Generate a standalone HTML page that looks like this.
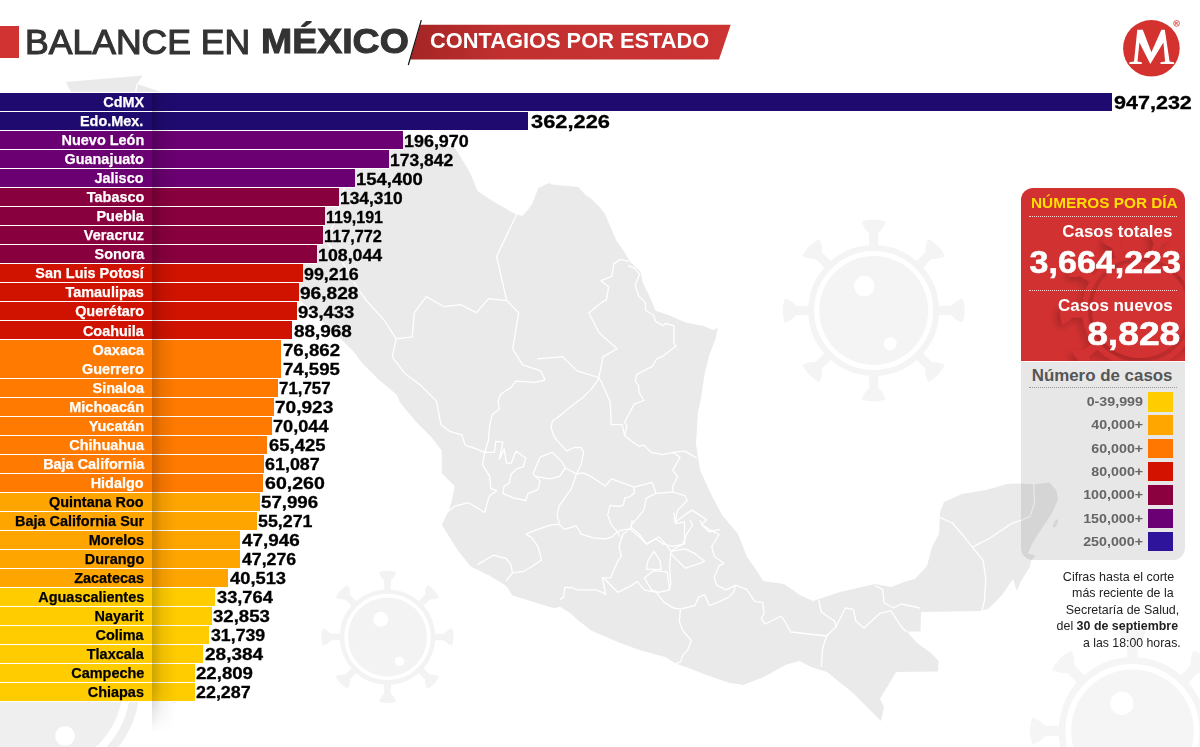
<!DOCTYPE html>
<html><head><meta charset="utf-8">
<style>
html,body{margin:0;padding:0;}
body{width:1200px;height:747px;overflow:hidden;background:#fff;position:relative;font-family:"Liberation Sans",sans-serif;}
.abs{position:absolute;}
.t{position:absolute;line-height:1;white-space:nowrap;}
.bar{position:absolute;left:0;height:18px;}
.num{font-weight:bold;color:#000;transform-origin:0 0;-webkit-text-stroke:0.3px #000;}
</style></head><body>

<svg class="abs" style="left:0;top:0" width="1200" height="747" viewBox="0 0 1200 747">
<circle cx="873.7" cy="310.5" r="62.50" fill="none" stroke="#f4f4f4" stroke-width="6.00"/>
<circle cx="873.7" cy="310.5" r="54.50" fill="#f4f4f4"/>
<g transform="translate(873.7,310.5) rotate(0) scale(1.0000)"><rect x="-4.6" y="-80" width="9.2" height="16" fill="#f4f4f4"/><path d="M-12,-89 Q0,-93 12,-89 Q10,-82 4,-77 L-4,-77 Q-10,-82 -12,-89 Z" fill="#f4f4f4"/></g>
<g transform="translate(873.7,310.5) rotate(45) scale(1.0000)"><rect x="-4.6" y="-80" width="9.2" height="16" fill="#f4f4f4"/><path d="M-12,-89 Q0,-93 12,-89 Q10,-82 4,-77 L-4,-77 Q-10,-82 -12,-89 Z" fill="#f4f4f4"/></g>
<g transform="translate(873.7,310.5) rotate(90) scale(1.0000)"><rect x="-4.6" y="-80" width="9.2" height="16" fill="#f4f4f4"/><path d="M-12,-89 Q0,-93 12,-89 Q10,-82 4,-77 L-4,-77 Q-10,-82 -12,-89 Z" fill="#f4f4f4"/></g>
<g transform="translate(873.7,310.5) rotate(135) scale(1.0000)"><rect x="-4.6" y="-80" width="9.2" height="16" fill="#f4f4f4"/><path d="M-12,-89 Q0,-93 12,-89 Q10,-82 4,-77 L-4,-77 Q-10,-82 -12,-89 Z" fill="#f4f4f4"/></g>
<g transform="translate(873.7,310.5) rotate(180) scale(1.0000)"><rect x="-4.6" y="-80" width="9.2" height="16" fill="#f4f4f4"/><path d="M-12,-89 Q0,-93 12,-89 Q10,-82 4,-77 L-4,-77 Q-10,-82 -12,-89 Z" fill="#f4f4f4"/></g>
<g transform="translate(873.7,310.5) rotate(225) scale(1.0000)"><rect x="-4.6" y="-80" width="9.2" height="16" fill="#f4f4f4"/><path d="M-12,-89 Q0,-93 12,-89 Q10,-82 4,-77 L-4,-77 Q-10,-82 -12,-89 Z" fill="#f4f4f4"/></g>
<g transform="translate(873.7,310.5) rotate(270) scale(1.0000)"><rect x="-4.6" y="-80" width="9.2" height="16" fill="#f4f4f4"/><path d="M-12,-89 Q0,-93 12,-89 Q10,-82 4,-77 L-4,-77 Q-10,-82 -12,-89 Z" fill="#f4f4f4"/></g>
<g transform="translate(873.7,310.5) rotate(315) scale(1.0000)"><rect x="-4.6" y="-80" width="9.2" height="16" fill="#f4f4f4"/><path d="M-12,-89 Q0,-93 12,-89 Q10,-82 4,-77 L-4,-77 Q-10,-82 -12,-89 Z" fill="#f4f4f4"/></g>
<circle cx="864.30" cy="286.00" r="10.30" fill="#fff"/>
<circle cx="890.20" cy="343.70" r="6.50" fill="#fff"/>
<circle cx="387.5" cy="637" r="45.42" fill="none" stroke="#f3f3f3" stroke-width="4.36"/>
<circle cx="387.5" cy="637" r="39.61" fill="#f3f3f3"/>
<g transform="translate(387.5,637) rotate(0) scale(0.7267)"><rect x="-4.6" y="-80" width="9.2" height="16" fill="#f3f3f3"/><path d="M-12,-89 Q0,-93 12,-89 Q10,-82 4,-77 L-4,-77 Q-10,-82 -12,-89 Z" fill="#f3f3f3"/></g>
<g transform="translate(387.5,637) rotate(45) scale(0.7267)"><rect x="-4.6" y="-80" width="9.2" height="16" fill="#f3f3f3"/><path d="M-12,-89 Q0,-93 12,-89 Q10,-82 4,-77 L-4,-77 Q-10,-82 -12,-89 Z" fill="#f3f3f3"/></g>
<g transform="translate(387.5,637) rotate(90) scale(0.7267)"><rect x="-4.6" y="-80" width="9.2" height="16" fill="#f3f3f3"/><path d="M-12,-89 Q0,-93 12,-89 Q10,-82 4,-77 L-4,-77 Q-10,-82 -12,-89 Z" fill="#f3f3f3"/></g>
<g transform="translate(387.5,637) rotate(135) scale(0.7267)"><rect x="-4.6" y="-80" width="9.2" height="16" fill="#f3f3f3"/><path d="M-12,-89 Q0,-93 12,-89 Q10,-82 4,-77 L-4,-77 Q-10,-82 -12,-89 Z" fill="#f3f3f3"/></g>
<g transform="translate(387.5,637) rotate(180) scale(0.7267)"><rect x="-4.6" y="-80" width="9.2" height="16" fill="#f3f3f3"/><path d="M-12,-89 Q0,-93 12,-89 Q10,-82 4,-77 L-4,-77 Q-10,-82 -12,-89 Z" fill="#f3f3f3"/></g>
<g transform="translate(387.5,637) rotate(225) scale(0.7267)"><rect x="-4.6" y="-80" width="9.2" height="16" fill="#f3f3f3"/><path d="M-12,-89 Q0,-93 12,-89 Q10,-82 4,-77 L-4,-77 Q-10,-82 -12,-89 Z" fill="#f3f3f3"/></g>
<g transform="translate(387.5,637) rotate(270) scale(0.7267)"><rect x="-4.6" y="-80" width="9.2" height="16" fill="#f3f3f3"/><path d="M-12,-89 Q0,-93 12,-89 Q10,-82 4,-77 L-4,-77 Q-10,-82 -12,-89 Z" fill="#f3f3f3"/></g>
<g transform="translate(387.5,637) rotate(315) scale(0.7267)"><rect x="-4.6" y="-80" width="9.2" height="16" fill="#f3f3f3"/><path d="M-12,-89 Q0,-93 12,-89 Q10,-82 4,-77 L-4,-77 Q-10,-82 -12,-89 Z" fill="#f3f3f3"/></g>
<circle cx="380.67" cy="619.20" r="7.49" fill="#fff"/>
<circle cx="399.49" cy="661.13" r="4.72" fill="#fff"/>
<circle cx="1132.5" cy="731" r="70.42" fill="none" stroke="#f5f5f5" stroke-width="6.76"/>
<circle cx="1132.5" cy="731" r="61.41" fill="#f5f5f5"/>
<g transform="translate(1132.5,731) rotate(0) scale(1.1267)"><rect x="-4.6" y="-80" width="9.2" height="16" fill="#f5f5f5"/><path d="M-12,-89 Q0,-93 12,-89 Q10,-82 4,-77 L-4,-77 Q-10,-82 -12,-89 Z" fill="#f5f5f5"/></g>
<g transform="translate(1132.5,731) rotate(45) scale(1.1267)"><rect x="-4.6" y="-80" width="9.2" height="16" fill="#f5f5f5"/><path d="M-12,-89 Q0,-93 12,-89 Q10,-82 4,-77 L-4,-77 Q-10,-82 -12,-89 Z" fill="#f5f5f5"/></g>
<g transform="translate(1132.5,731) rotate(90) scale(1.1267)"><rect x="-4.6" y="-80" width="9.2" height="16" fill="#f5f5f5"/><path d="M-12,-89 Q0,-93 12,-89 Q10,-82 4,-77 L-4,-77 Q-10,-82 -12,-89 Z" fill="#f5f5f5"/></g>
<g transform="translate(1132.5,731) rotate(135) scale(1.1267)"><rect x="-4.6" y="-80" width="9.2" height="16" fill="#f5f5f5"/><path d="M-12,-89 Q0,-93 12,-89 Q10,-82 4,-77 L-4,-77 Q-10,-82 -12,-89 Z" fill="#f5f5f5"/></g>
<g transform="translate(1132.5,731) rotate(180) scale(1.1267)"><rect x="-4.6" y="-80" width="9.2" height="16" fill="#f5f5f5"/><path d="M-12,-89 Q0,-93 12,-89 Q10,-82 4,-77 L-4,-77 Q-10,-82 -12,-89 Z" fill="#f5f5f5"/></g>
<g transform="translate(1132.5,731) rotate(225) scale(1.1267)"><rect x="-4.6" y="-80" width="9.2" height="16" fill="#f5f5f5"/><path d="M-12,-89 Q0,-93 12,-89 Q10,-82 4,-77 L-4,-77 Q-10,-82 -12,-89 Z" fill="#f5f5f5"/></g>
<g transform="translate(1132.5,731) rotate(270) scale(1.1267)"><rect x="-4.6" y="-80" width="9.2" height="16" fill="#f5f5f5"/><path d="M-12,-89 Q0,-93 12,-89 Q10,-82 4,-77 L-4,-77 Q-10,-82 -12,-89 Z" fill="#f5f5f5"/></g>
<g transform="translate(1132.5,731) rotate(315) scale(1.1267)"><rect x="-4.6" y="-80" width="9.2" height="16" fill="#f5f5f5"/><path d="M-12,-89 Q0,-93 12,-89 Q10,-82 4,-77 L-4,-77 Q-10,-82 -12,-89 Z" fill="#f5f5f5"/></g>
<circle cx="1121.91" cy="703.40" r="11.61" fill="#fff"/>
<circle cx="1151.09" cy="768.41" r="7.32" fill="#fff"/>
<circle cx="39.8" cy="685.3" r="95.42" fill="none" stroke="#efefef" stroke-width="9.16"/>
<circle cx="39.8" cy="685.3" r="83.21" fill="#efefef"/>
<g transform="translate(39.8,685.3) rotate(0) scale(1.5267)"><rect x="-4.6" y="-80" width="9.2" height="16" fill="#efefef"/><path d="M-12,-89 Q0,-93 12,-89 Q10,-82 4,-77 L-4,-77 Q-10,-82 -12,-89 Z" fill="#efefef"/></g>
<g transform="translate(39.8,685.3) rotate(45) scale(1.5267)"><rect x="-4.6" y="-80" width="9.2" height="16" fill="#efefef"/><path d="M-12,-89 Q0,-93 12,-89 Q10,-82 4,-77 L-4,-77 Q-10,-82 -12,-89 Z" fill="#efefef"/></g>
<g transform="translate(39.8,685.3) rotate(90) scale(1.5267)"><rect x="-4.6" y="-80" width="9.2" height="16" fill="#efefef"/><path d="M-12,-89 Q0,-93 12,-89 Q10,-82 4,-77 L-4,-77 Q-10,-82 -12,-89 Z" fill="#efefef"/></g>
<g transform="translate(39.8,685.3) rotate(135) scale(1.5267)"><rect x="-4.6" y="-80" width="9.2" height="16" fill="#efefef"/><path d="M-12,-89 Q0,-93 12,-89 Q10,-82 4,-77 L-4,-77 Q-10,-82 -12,-89 Z" fill="#efefef"/></g>
<g transform="translate(39.8,685.3) rotate(180) scale(1.5267)"><rect x="-4.6" y="-80" width="9.2" height="16" fill="#efefef"/><path d="M-12,-89 Q0,-93 12,-89 Q10,-82 4,-77 L-4,-77 Q-10,-82 -12,-89 Z" fill="#efefef"/></g>
<g transform="translate(39.8,685.3) rotate(225) scale(1.5267)"><rect x="-4.6" y="-80" width="9.2" height="16" fill="#efefef"/><path d="M-12,-89 Q0,-93 12,-89 Q10,-82 4,-77 L-4,-77 Q-10,-82 -12,-89 Z" fill="#efefef"/></g>
<g transform="translate(39.8,685.3) rotate(270) scale(1.5267)"><rect x="-4.6" y="-80" width="9.2" height="16" fill="#efefef"/><path d="M-12,-89 Q0,-93 12,-89 Q10,-82 4,-77 L-4,-77 Q-10,-82 -12,-89 Z" fill="#efefef"/></g>
<g transform="translate(39.8,685.3) rotate(315) scale(1.5267)"><rect x="-4.6" y="-80" width="9.2" height="16" fill="#efefef"/><path d="M-12,-89 Q0,-93 12,-89 Q10,-82 4,-77 L-4,-77 Q-10,-82 -12,-89 Z" fill="#efefef"/></g>
<circle cx="25.45" cy="647.90" r="15.73" fill="#fff"/>
<circle cx="64.99" cy="735.99" r="9.92" fill="#fff"/>
<path d="M65.75,82 142.5,75.5 137,84 163,92.5 300,115 455,148 470,172.5 477.5,191 492.5,201 515,214 522.5,216 528.3,209.2 532.5,203.3 538.3,187.9 549.2,182.9 551.7,184.6 565,185.8 578.3,187.1 585,194.2 591.7,199.2 600,207.5 605,214 616.1,240 623.6,250.7 630,261.4 640.7,272.1 642.8,282.8 649.3,295.7 655.7,310.7 668.5,315 685.7,322.4 702.8,325.7 713.5,329.9 717.8,327.8 715.6,338.5 709.2,355.6 704.9,372.8 700.6,400 698,412 696,444 700,470 712,496 722,515 738,534 747,557 757,571 763,581 784,584 800,595 813,601 840,592 875,584 891,587 907,581 915,579 927,566 932,547 939,534 940,512 944,502 962,494 986,490 1007,484 1018.7,483.4 1033.7,484.3 1049.6,482.5 1056.2,490 1058,499.3 1052.4,512.4 1044.9,523.7 1037.5,534.9 1031.8,544.3 1028.1,553.6 1035.6,555.5 1030.9,561.1 1030,566.7 1026.2,572.4 1020.6,581.7 1016.9,591.1 1013,579 1002,595 988,609 980,611 921,612 920.5,631.5 907,631.5 917,643 931,653 938.7,661 938,671.5 896,672 880,699 884,707 881,721 864,704 853,693 827,672 811,667 799.8,661 786.5,664.6 764.8,676.6 743.1,685.1 728.7,682.7 704.6,674.2 692.5,669.4 675.7,663.4 666,657.3 639.5,650.1 620.2,642.9 591.3,630.8 579.3,621.2 569.6,612.8 560,606.7 554.3,608.3 512.5,595.4 506.1,585.8 490,576.1 470.7,566.5 457.9,550.4 441.8,524.7 448.2,511.8 451.4,502.2 454.7,486.1 441.8,473.2 441.8,450.7 432.2,437.9 416,421.8 400,402.5 397,395 378,379 362,363 354,352 338,336 300,300 250,230 200,160 170,120 150,110 140,140 170,230 230,330 260,420 250,470 200,380 120,260 80,170 72,94 65.75,82 Z" fill="#eaeaea"/>
<ellipse cx="1055.5" cy="523.5" rx="1.6" ry="4.5" transform="rotate(25 1055.5 523.5)" fill="#eaeaea"/>
<polyline points="516.7,214.3 496.6,256.5 506.7,300.6" fill="none" stroke="#fff" stroke-width="1.3" stroke-linejoin="round"/>
<polyline points="506.7,300.6 488.6,298.6 476.5,312.7 460.5,304.7 444.4,306.7 426.3,296.6 414.3,312.7 412.3,336.8 396.2,338.8" fill="none" stroke="#fff" stroke-width="1.3" stroke-linejoin="round"/>
<polyline points="344.7,186.8 335.6,218.7 326.4,241.5 342.4,262 358.3,289.3 366,300 384,320 396.2,338.8" fill="none" stroke="#fff" stroke-width="1.3" stroke-linejoin="round"/>
<polyline points="396.2,338.8 392.2,356.9 404.3,372.9 420.3,385 436.4,401 440.9,424.4 449.6,431.3 461.8,434.8 465.2,445.2 475.7,448.7 484.8,452.3" fill="none" stroke="#fff" stroke-width="1.3" stroke-linejoin="round"/>
<polyline points="506.7,300.6 518.7,312.7 512.7,348.8 522.7,364.9 540.8,370.9 545.1,380" fill="none" stroke="#fff" stroke-width="1.3" stroke-linejoin="round"/>
<polyline points="536.8,358.8 562.9,356.9 577,370.9 597,377 600.5,380" fill="none" stroke="#fff" stroke-width="1.3" stroke-linejoin="round"/>
<polyline points="545.1,380 535.4,382.4 516.1,381.2 511.3,387.2 500.5,394.5 498.1,401.7 499.3,408.9 492,414.9 489.6,425.8 488.4,440.2 484.8,452.3 482.4,464.3 489.6,476.4 490.8,488.4 496.9,490.8 489.6,495.7 487.2,502.9 484.8,512.5 468.7,502.7 454.8,506.2 447.8,511.4" fill="none" stroke="#fff" stroke-width="1.3" stroke-linejoin="round"/>
<polyline points="628.9,261.4 620.3,259.3 613.9,263.6 611.8,276.4 601,280.7 608.6,287.1 606.4,300 602.1,302.1 589,312.7 599,332.8 617.1,348.8 603,356.9 599,377 598.1,380" fill="none" stroke="#fff" stroke-width="1.3" stroke-linejoin="round"/>
<polyline points="627.8,265.7 634.3,267.8 639.6,274.3 635.3,285 638.5,295.7 645,302.1 646,310.7 653.5,315 655.7,321.4 663.2,325.7 665.3,323.5 673.9,325.7 673.9,342.8 676,346 662.1,356.7 656.7,358.8 652.5,366.3 643.9,370.6 636.4,374.9 635.3,381.3 638.5,385.6 639,392 643.9,400.5 634.2,404.1 624.6,422.2 627,425.8 624.6,435.4 631.8,441.4 639,446.3 643.9,445.1 651.1,452.3 663.1,454.7 672.8,452.3 684.8,451.1 696.9,458.3" fill="none" stroke="#fff" stroke-width="1.3" stroke-linejoin="round"/>
<polyline points="600.5,380 610.1,401.7 611.3,424.6 622.2,424.6 624.6,435.4" fill="none" stroke="#fff" stroke-width="1.3" stroke-linejoin="round"/>
<polyline points="484.8,452.3 494.5,452.3 495.7,441.4 502.9,442.2 499.3,459.5 504.1,448.7 506.5,463.1 511.3,463.1 516.1,451.1 525.8,458.3 523.4,466.7 516.1,469.2 511.3,474 508.9,483.6 504.1,486 502.9,493.3 513.7,498.1 525.8,500.5 528.2,493.3 537.8,489.6 540.2,481.2 535.4,476.4" fill="none" stroke="#fff" stroke-width="1.3" stroke-linejoin="round"/>
<polyline points="533,474 540.2,457.1 552.3,452.3 561.9,461.9 565.5,468 559.5,476.4 549.9,478.8 535.4,476.4 533,474" fill="none" stroke="#fff" stroke-width="1.3" stroke-linejoin="round"/>
<polyline points="598.1,380 590.8,389.6 583.6,396.9 574,404.1 559.5,416.1 552.3,421 551.1,428.2 554.7,437.8 566.7,451.1 574,447.5 581.2,447.5 583.6,452.3 581.2,464.3 576.4,474 565.5,468" fill="none" stroke="#fff" stroke-width="1.3" stroke-linejoin="round"/>
<polyline points="576.4,474 583.6,472.8 590.8,476.4 605.3,486 611.3,478.8 624.6,483.6 634.2,487.2 634.2,493.3 629.4,496.9 624.6,498.1 623.4,505.3 617.3,506.5 610.1,505.3 607.7,514.9 611.3,524.6 617.3,531.8 619.8,536.6" fill="none" stroke="#fff" stroke-width="1.3" stroke-linejoin="round"/>
<polyline points="634.2,487.2 652.3,482.4 655.9,493.3 672.8,492 672.8,486 677.6,476.4 672.8,470.4 677.6,461.9 680,457.1 672.8,452.3" fill="none" stroke="#fff" stroke-width="1.3" stroke-linejoin="round"/>
<polyline points="672.8,492 684.8,495.7 687.2,500.5 677.6,510.1 675.2,522.2 684.8,514.9 692,510.1 699.3,514.9 706.5,519.8 701.7,524.6 708.9,531.8 719.8,529.4" fill="none" stroke="#fff" stroke-width="1.3" stroke-linejoin="round"/>
<polyline points="655.9,493.3 646.3,498.1 643.9,510.1 631.8,524.6 630.6,529.4 639,536.6 646.3,543.9 655.9,539 663.1,543.9 672.8,546.3 684.8,543.9 684.5,535.7 684.5,521.8 675.8,523.6 674.1,513.1 675.2,522.2" fill="none" stroke="#fff" stroke-width="1.3" stroke-linejoin="round"/>
<polyline points="525.8,534.2 537.8,529.4 552.3,524.6 559.5,524.6 564.3,529.4 576.4,525.8 581.2,534.2 593.3,537.8 605.3,539 612.5,536.6 617.3,531.8 624.6,529.4 630.6,529.4" fill="none" stroke="#fff" stroke-width="1.3" stroke-linejoin="round"/>
<polyline points="576.4,474 571.6,488.4 559.5,505.3 557.1,514.9 559.5,524.6" fill="none" stroke="#fff" stroke-width="1.3" stroke-linejoin="round"/>
<polyline points="736,585.3 746.7,589.3 754.7,601.3 762.7,602.7 764,613.3 761.3,618.7 765.3,624 781.3,616 784,620 790.7,632 826.7,636 822.7,648 821.3,666.7" fill="none" stroke="#fff" stroke-width="1.3" stroke-linejoin="round"/>
<polyline points="818.7,600 821.3,612 834.7,621.3 836,626.7 826.7,636" fill="none" stroke="#fff" stroke-width="1.3" stroke-linejoin="round"/>
<polyline points="836,626.7 845.3,608 853.3,609.3 856,621.3 864,628 880,613.3 890.7,610.7 901.3,626.7 906.7,632" fill="none" stroke="#fff" stroke-width="1.3" stroke-linejoin="round"/>
<polyline points="874.7,585.3 882.7,589.3 884,602.7 893.3,608 901.3,604 920,608" fill="none" stroke="#fff" stroke-width="1.3" stroke-linejoin="round"/>
<polyline points="940.3,517.6 952.3,523 961.7,533.7 972.4,547.1 983.1,560.4 985.8,579.2 984.5,600.6 981.8,611.3" fill="none" stroke="#fff" stroke-width="1.3" stroke-linejoin="round"/>
<polyline points="972.4,547.1 988.5,539 1000,531.2 1011.2,523.7 1022.5,519.9 1030,516.2 1034.6,503.1 1033.7,486.2 1033.7,484.3" fill="none" stroke="#fff" stroke-width="1.3" stroke-linejoin="round"/>
<polyline points="137,84 135.5,94" fill="none" stroke="#fff" stroke-width="1.3" stroke-linejoin="round"/>
<polyline points="632.3,520 631.1,527.2 622.7,534.5 619,546.5 621.4,556.1 617.8,561 610.6,577.8 602.2,577.8 605.8,594.7 602.2,592.3 596.1,589.9 576.9,589.9 572,587.5 564.8,587.5 563.6,597.1 560,599.5" fill="none" stroke="#fff" stroke-width="1.3" stroke-linejoin="round"/>
<polyline points="603.4,577.8 617.8,592.3 632.3,585.1 637.1,581.4 644.3,589.9 656.4,592.3 663.6,601.9 673.3,608 680.5,609.2 694.9,605.5 698.6,597.1 704.6,594.7 709.4,605.5 719,601.9 728.7,597.1 733.5,592.3 735.9,585.1" fill="none" stroke="#fff" stroke-width="1.3" stroke-linejoin="round"/>
<polyline points="680.5,609.2 679.3,621.2 682.9,630.8 691.3,640.5 687.7,650.1 682.9,654.9 680.5,662.2 675.7,663.4" fill="none" stroke="#fff" stroke-width="1.3" stroke-linejoin="round"/>
<polyline points="735.9,585.1 726.3,589.9 716.6,585.1 714.2,577.8 719,565.8 723.9,563.4 714.2,556.1 711.8,546.5 719,534.5 709.4,529.6 702.2,524.8 699.8,520" fill="none" stroke="#fff" stroke-width="1.3" stroke-linejoin="round"/>
<polyline points="670.8,551.3 685.3,548.9 694.9,553.7 704.6,561 699.8,563.4 685.3,568.2 675.7,558.6 670.8,553.7" fill="none" stroke="#fff" stroke-width="1.3" stroke-linejoin="round"/>
<polyline points="646.3,569.4 648,560.5 654,551.3 660,561 661.2,569.4 646.3,569.4" fill="none" stroke="#fff" stroke-width="1.3" stroke-linejoin="round"/>
<polyline points="670.8,551.3 669.6,568.2 670.8,582.7 669.6,589.9" fill="none" stroke="#fff" stroke-width="1.3" stroke-linejoin="round"/>
<polyline points="644.3,577.8 654,570.6 667.2,571.8 669.6,589.9 658.8,592.3 651.6,589.9 644.3,577.8" fill="none" stroke="#fff" stroke-width="1.3" stroke-linejoin="round"/>
<polyline points="631.1,527.2 639.5,534.5 646.7,544.1 658.8,536.9 666,544.1 670.8,551.3" fill="none" stroke="#fff" stroke-width="1.3" stroke-linejoin="round"/>
<polyline points="670.8,551.3 682.9,544.1 686.5,534.5 692.5,524.8 690.1,520" fill="none" stroke="#fff" stroke-width="1.3" stroke-linejoin="round"/>
<polyline points="477.2,564.9 493.2,555.2 506.1,558.5 510.9,564.9 512.5,572.9 506.1,581" fill="none" stroke="#fff" stroke-width="1.3" stroke-linejoin="round"/>
<polyline points="512.5,572.9 523.8,571.3 531.8,566.5 541.5,560.1 538.3,547.2 531.8,537.6 525.8,534.2" fill="none" stroke="#fff" stroke-width="1.3" stroke-linejoin="round"/>
</svg>
<div class="bar" style="top:92.20px;width:1112.3px;height:20px;background:#fff"></div>
<div class="bar" style="top:111.22px;width:528.0px;height:20px;background:#fff"></div>
<div class="bar" style="top:130.24px;width:403.2px;height:20px;background:#fff"></div>
<div class="bar" style="top:149.26px;width:388.7px;height:20px;background:#fff"></div>
<div class="bar" style="top:168.28px;width:354.5px;height:20px;background:#fff"></div>
<div class="bar" style="top:187.30px;width:338.6px;height:20px;background:#fff"></div>
<div class="bar" style="top:206.32px;width:325.0px;height:20px;background:#fff"></div>
<div class="bar" style="top:225.34px;width:322.7px;height:20px;background:#fff"></div>
<div class="bar" style="top:244.36px;width:317.1px;height:20px;background:#fff"></div>
<div class="bar" style="top:263.38px;width:302.9px;height:20px;background:#fff"></div>
<div class="bar" style="top:282.40px;width:299.0px;height:20px;background:#fff"></div>
<div class="bar" style="top:301.42px;width:296.9px;height:20px;background:#fff"></div>
<div class="bar" style="top:320.44px;width:292.0px;height:20px;background:#fff"></div>
<div class="bar" style="top:339.46px;width:281.2px;height:20px;background:#fff"></div>
<div class="bar" style="top:358.48px;width:281.2px;height:20px;background:#fff"></div>
<div class="bar" style="top:377.50px;width:277.6px;height:20px;background:#fff"></div>
<div class="bar" style="top:396.52px;width:274.0px;height:20px;background:#fff"></div>
<div class="bar" style="top:415.54px;width:272.0px;height:20px;background:#fff"></div>
<div class="bar" style="top:434.56px;width:267.2px;height:20px;background:#fff"></div>
<div class="bar" style="top:453.58px;width:263.9px;height:20px;background:#fff"></div>
<div class="bar" style="top:472.60px;width:263.4px;height:20px;background:#fff"></div>
<div class="bar" style="top:491.62px;width:259.7px;height:20px;background:#fff"></div>
<div class="bar" style="top:510.64px;width:256.8px;height:20px;background:#fff"></div>
<div class="bar" style="top:529.66px;width:239.7px;height:20px;background:#fff"></div>
<div class="bar" style="top:548.68px;width:239.7px;height:20px;background:#fff"></div>
<div class="bar" style="top:567.70px;width:227.9px;height:20px;background:#fff"></div>
<div class="bar" style="top:586.72px;width:214.8px;height:20px;background:#fff"></div>
<div class="bar" style="top:605.74px;width:211.6px;height:20px;background:#fff"></div>
<div class="bar" style="top:624.76px;width:208.9px;height:20px;background:#fff"></div>
<div class="bar" style="top:643.78px;width:203.3px;height:20px;background:#fff"></div>
<div class="bar" style="top:662.80px;width:194.8px;height:20px;background:#fff"></div>
<div class="bar" style="top:681.82px;width:194.8px;height:20px;background:#fff"></div>
<div class="bar" style="top:93.20px;width:1112.3px;height:18.05px;background:#1f0b70"></div>
<div class="bar" style="top:112.22px;width:528.0px;height:18.05px;background:#1f0b70"></div>
<div class="bar" style="top:131.24px;width:403.2px;height:18.05px;background:#6a0071"></div>
<div class="bar" style="top:150.26px;width:388.7px;height:18.05px;background:#6a0071"></div>
<div class="bar" style="top:169.28px;width:354.5px;height:18.05px;background:#6a0071"></div>
<div class="bar" style="top:188.30px;width:338.6px;height:18.05px;background:#89003f"></div>
<div class="bar" style="top:207.32px;width:325.0px;height:18.05px;background:#89003f"></div>
<div class="bar" style="top:226.34px;width:322.7px;height:18.05px;background:#89003f"></div>
<div class="bar" style="top:245.36px;width:317.1px;height:18.05px;background:#89003f"></div>
<div class="bar" style="top:264.38px;width:302.9px;height:18.05px;background:#d01300"></div>
<div class="bar" style="top:283.40px;width:299.0px;height:18.05px;background:#d01300"></div>
<div class="bar" style="top:302.42px;width:296.9px;height:18.05px;background:#d01300"></div>
<div class="bar" style="top:321.44px;width:292.0px;height:18.05px;background:#d01300"></div>
<div class="bar" style="top:340.46px;width:281.2px;height:18.05px;background:#ff7a00"></div>
<div class="bar" style="top:359.48px;width:281.2px;height:18.05px;background:#ff7a00"></div>
<div class="bar" style="top:378.50px;width:277.6px;height:18.05px;background:#ff7a00"></div>
<div class="bar" style="top:397.52px;width:274.0px;height:18.05px;background:#ff7a00"></div>
<div class="bar" style="top:416.54px;width:272.0px;height:18.05px;background:#ff7a00"></div>
<div class="bar" style="top:435.56px;width:267.2px;height:18.05px;background:#ff7a00"></div>
<div class="bar" style="top:454.58px;width:263.9px;height:18.05px;background:#ff7a00"></div>
<div class="bar" style="top:473.60px;width:263.4px;height:18.05px;background:#ff7a00"></div>
<div class="bar" style="top:492.62px;width:259.7px;height:18.05px;background:#ffa500"></div>
<div class="bar" style="top:511.64px;width:256.8px;height:18.05px;background:#ffa500"></div>
<div class="bar" style="top:530.66px;width:239.7px;height:18.05px;background:#ffa500"></div>
<div class="bar" style="top:549.68px;width:239.7px;height:18.05px;background:#ffa500"></div>
<div class="bar" style="top:568.70px;width:227.9px;height:18.05px;background:#ffa500"></div>
<div class="bar" style="top:587.72px;width:214.8px;height:18.05px;background:#ffcc00"></div>
<div class="bar" style="top:606.74px;width:211.6px;height:18.05px;background:#ffcc00"></div>
<div class="bar" style="top:625.76px;width:208.9px;height:18.05px;background:#ffcc00"></div>
<div class="bar" style="top:644.78px;width:203.3px;height:18.05px;background:#ffcc00"></div>
<div class="bar" style="top:663.80px;width:194.8px;height:18.05px;background:#ffcc00"></div>
<div class="bar" style="top:682.82px;width:194.8px;height:18.05px;background:#ffcc00"></div>
<div class="abs" style="left:152px;top:93px;width:24px;height:640px;background:linear-gradient(90deg,rgba(0,0,0,0.20),rgba(0,0,0,0.07) 40%,rgba(0,0,0,0));-webkit-mask-image:linear-gradient(180deg,#000 0,#000 93%,transparent 100%)"></div>
<div class="t" style="right:1056.20px;top:95.26px;font-size:14.9px;font-weight:bold;color:#fff;transform-origin:100% 0;transform:scaleX(0.97);-webkit-text-stroke:0.25px #fff;">CdMX</div>
<div class="t num" style="left:1114.44px;top:93.58px;font-size:18.5px;transform:scaleX(1.1638)">947,232</div>
<div class="t" style="right:1056.20px;top:114.28px;font-size:14.9px;font-weight:bold;color:#fff;transform-origin:100% 0;transform:scaleX(0.97);-webkit-text-stroke:0.25px #fff;">Edo.Mex.</div>
<div class="t num" style="left:530.56px;top:112.60px;font-size:18.5px;transform:scaleX(1.1813)">362,226</div>
<div class="t" style="right:1056.20px;top:133.30px;font-size:14.9px;font-weight:bold;color:#fff;transform-origin:100% 0;transform:scaleX(0.97);-webkit-text-stroke:0.25px #fff;">Nuevo León</div>
<div class="t num" style="left:404.32px;top:132.77px;font-size:16.1px;transform:scaleX(1.1131)">196,970</div>
<div class="t" style="right:1056.20px;top:152.32px;font-size:14.9px;font-weight:bold;color:#fff;transform-origin:100% 0;transform:scaleX(0.97);-webkit-text-stroke:0.25px #fff;">Guanajuato</div>
<div class="t num" style="left:389.85px;top:151.79px;font-size:16.1px;transform:scaleX(1.0865)">173,842</div>
<div class="t" style="right:1056.20px;top:171.34px;font-size:14.9px;font-weight:bold;color:#fff;transform-origin:100% 0;transform:scaleX(0.97);-webkit-text-stroke:0.25px #fff;">Jalisco</div>
<div class="t num" style="left:355.59px;top:170.81px;font-size:16.1px;transform:scaleX(1.1467)">154,400</div>
<div class="t" style="right:1056.20px;top:190.36px;font-size:14.9px;font-weight:bold;color:#fff;transform-origin:100% 0;transform:scaleX(0.97);-webkit-text-stroke:0.25px #fff;">Tabasco</div>
<div class="t num" style="left:339.76px;top:189.83px;font-size:16.1px;transform:scaleX(1.0777)">134,310</div>
<div class="t" style="right:1056.20px;top:209.38px;font-size:14.9px;font-weight:bold;color:#fff;transform-origin:100% 0;transform:scaleX(0.97);-webkit-text-stroke:0.25px #fff;">Puebla</div>
<div class="t num" style="left:326.24px;top:208.85px;font-size:16.1px;transform:scaleX(0.9934)">119,191</div>
<div class="t" style="right:1056.20px;top:228.40px;font-size:14.9px;font-weight:bold;color:#fff;transform-origin:100% 0;transform:scaleX(0.97);-webkit-text-stroke:0.25px #fff;">Veracruz</div>
<div class="t num" style="left:323.92px;top:227.87px;font-size:16.1px;transform:scaleX(1.0107)">117,772</div>
<div class="t" style="right:1056.20px;top:247.42px;font-size:14.9px;font-weight:bold;color:#fff;transform-origin:100% 0;transform:scaleX(0.97);-webkit-text-stroke:0.25px #fff;">Sonora</div>
<div class="t num" style="left:318.23px;top:246.89px;font-size:16.1px;transform:scaleX(1.1040)">108,044</div>
<div class="t" style="right:1056.20px;top:266.44px;font-size:14.9px;font-weight:bold;color:#fff;transform-origin:100% 0;transform:scaleX(0.97);-webkit-text-stroke:0.25px #fff;">San Luis Potosí</div>
<div class="t num" style="left:304.39px;top:265.91px;font-size:16.1px;transform:scaleX(1.1088)">99,216</div>
<div class="t" style="right:1056.20px;top:285.46px;font-size:14.9px;font-weight:bold;color:#fff;transform-origin:100% 0;transform:scaleX(0.97);-webkit-text-stroke:0.25px #fff;">Tamaulipas</div>
<div class="t num" style="left:300.44px;top:284.93px;font-size:16.1px;transform:scaleX(1.1861)">96,828</div>
<div class="t" style="right:1056.20px;top:304.48px;font-size:14.9px;font-weight:bold;color:#fff;transform-origin:100% 0;transform:scaleX(0.97);-webkit-text-stroke:0.25px #fff;">Querétaro</div>
<div class="t num" style="left:298.36px;top:303.95px;font-size:16.1px;transform:scaleX(1.1443)">93,433</div>
<div class="t" style="right:1056.20px;top:323.50px;font-size:14.9px;font-weight:bold;color:#fff;transform-origin:100% 0;transform:scaleX(0.97);-webkit-text-stroke:0.25px #fff;">Coahuila</div>
<div class="t num" style="left:293.63px;top:322.97px;font-size:16.1px;transform:scaleX(1.1760)">88,968</div>
<div class="t" style="right:1056.20px;top:342.52px;font-size:14.9px;font-weight:bold;color:#fff;transform-origin:100% 0;transform:scaleX(0.97);-webkit-text-stroke:0.25px #fff;">Oaxaca</div>
<div class="t num" style="left:282.65px;top:341.99px;font-size:16.1px;transform:scaleX(1.1589)">76,862</div>
<div class="t" style="right:1056.20px;top:361.54px;font-size:14.9px;font-weight:bold;color:#fff;transform-origin:100% 0;transform:scaleX(0.97);-webkit-text-stroke:0.25px #fff;">Guerrero</div>
<div class="t num" style="left:282.66px;top:361.01px;font-size:16.1px;transform:scaleX(1.1550)">74,595</div>
<div class="t" style="right:1056.20px;top:380.56px;font-size:14.9px;font-weight:bold;color:#fff;transform-origin:100% 0;transform:scaleX(0.97);-webkit-text-stroke:0.25px #fff;">Sinaloa</div>
<div class="t num" style="left:279.13px;top:380.03px;font-size:16.1px;transform:scaleX(1.0477)">71,757</div>
<div class="t" style="right:1056.20px;top:399.58px;font-size:14.9px;font-weight:bold;color:#fff;transform-origin:100% 0;transform:scaleX(0.97);-webkit-text-stroke:0.25px #fff;">Michoacán</div>
<div class="t num" style="left:275.44px;top:399.05px;font-size:16.1px;transform:scaleX(1.1839)">70,923</div>
<div class="t" style="right:1056.20px;top:418.60px;font-size:14.9px;font-weight:bold;color:#fff;transform-origin:100% 0;transform:scaleX(0.97);-webkit-text-stroke:0.25px #fff;">Yucatán</div>
<div class="t num" style="left:273.47px;top:418.07px;font-size:16.1px;transform:scaleX(1.1287)">70,044</div>
<div class="t" style="right:1056.20px;top:437.62px;font-size:14.9px;font-weight:bold;color:#fff;transform-origin:100% 0;transform:scaleX(0.97);-webkit-text-stroke:0.25px #fff;">Chihuahua</div>
<div class="t num" style="left:268.66px;top:437.09px;font-size:16.1px;transform:scaleX(1.1467)">65,425</div>
<div class="t" style="right:1056.20px;top:456.64px;font-size:14.9px;font-weight:bold;color:#fff;transform-origin:100% 0;transform:scaleX(0.97);-webkit-text-stroke:0.25px #fff;">Baja California</div>
<div class="t num" style="left:265.38px;top:456.11px;font-size:16.1px;transform:scaleX(1.1126)">61,087</div>
<div class="t" style="right:1056.20px;top:475.66px;font-size:14.9px;font-weight:bold;color:#fff;transform-origin:100% 0;transform:scaleX(0.97);-webkit-text-stroke:0.25px #fff;">Hidalgo</div>
<div class="t num" style="left:264.82px;top:475.13px;font-size:16.1px;transform:scaleX(1.2151)">60,260</div>
<div class="t" style="right:1056.20px;top:494.68px;font-size:14.9px;font-weight:bold;color:#000;transform-origin:100% 0;transform:scaleX(0.97);-webkit-text-stroke:0.25px #000;">Quintana Roo</div>
<div class="t num" style="left:261.34px;top:494.15px;font-size:16.1px;transform:scaleX(1.1612)">57,996</div>
<div class="t" style="right:1056.20px;top:513.70px;font-size:14.9px;font-weight:bold;color:#000;transform-origin:100% 0;transform:scaleX(0.97);-webkit-text-stroke:0.25px #000;">Baja California Sur</div>
<div class="t num" style="left:258.47px;top:513.17px;font-size:16.1px;transform:scaleX(1.1056)">55,271</div>
<div class="t" style="right:1056.20px;top:532.72px;font-size:14.9px;font-weight:bold;color:#000;transform-origin:100% 0;transform:scaleX(0.97);-webkit-text-stroke:0.25px #000;">Morelos</div>
<div class="t num" style="left:241.52px;top:532.19px;font-size:16.1px;transform:scaleX(1.1718)">47,946</div>
<div class="t" style="right:1056.20px;top:551.74px;font-size:14.9px;font-weight:bold;color:#000;transform-origin:100% 0;transform:scaleX(0.97);-webkit-text-stroke:0.25px #000;">Durango</div>
<div class="t num" style="left:241.55px;top:551.21px;font-size:16.1px;transform:scaleX(1.0994)">47,276</div>
<div class="t" style="right:1056.20px;top:570.76px;font-size:14.9px;font-weight:bold;color:#000;transform-origin:100% 0;transform:scaleX(0.97);-webkit-text-stroke:0.25px #000;">Zacatecas</div>
<div class="t num" style="left:229.73px;top:570.23px;font-size:16.1px;transform:scaleX(1.1387)">40,513</div>
<div class="t" style="right:1056.20px;top:589.78px;font-size:14.9px;font-weight:bold;color:#000;transform-origin:100% 0;transform:scaleX(0.97);-webkit-text-stroke:0.25px #000;">Aguascalientes</div>
<div class="t num" style="left:216.63px;top:589.25px;font-size:16.1px;transform:scaleX(1.1336)">33,764</div>
<div class="t" style="right:1056.20px;top:608.80px;font-size:14.9px;font-weight:bold;color:#000;transform-origin:100% 0;transform:scaleX(0.97);-webkit-text-stroke:0.25px #000;">Nayarit</div>
<div class="t num" style="left:213.43px;top:608.27px;font-size:16.1px;transform:scaleX(1.1553)">32,853</div>
<div class="t" style="right:1056.20px;top:627.82px;font-size:14.9px;font-weight:bold;color:#000;transform-origin:100% 0;transform:scaleX(0.97);-webkit-text-stroke:0.25px #000;">Colima</div>
<div class="t num" style="left:210.75px;top:627.29px;font-size:16.1px;transform:scaleX(1.1014)">31,739</div>
<div class="t" style="right:1056.20px;top:646.84px;font-size:14.9px;font-weight:bold;color:#000;transform-origin:100% 0;transform:scaleX(0.97);-webkit-text-stroke:0.25px #000;">Tlaxcala</div>
<div class="t num" style="left:204.93px;top:646.31px;font-size:16.1px;transform:scaleX(1.1805)">28,384</div>
<div class="t" style="right:1056.20px;top:665.86px;font-size:14.9px;font-weight:bold;color:#000;transform-origin:100% 0;transform:scaleX(0.97);-webkit-text-stroke:0.25px #000;">Campeche</div>
<div class="t num" style="left:196.44px;top:665.33px;font-size:16.1px;transform:scaleX(1.1571)">22,809</div>
<div class="t" style="right:1056.20px;top:684.88px;font-size:14.9px;font-weight:bold;color:#000;transform-origin:100% 0;transform:scaleX(0.97);-webkit-text-stroke:0.25px #000;">Chiapas</div>
<div class="t num" style="left:196.46px;top:684.35px;font-size:16.1px;transform:scaleX(1.1109)">22,287</div>
<div class="abs" style="left:0;top:26.2px;width:19.2px;height:32.2px;background:#d13232"></div>
<div class="t" style="left:24.87px;top:24.56px;font-size:34.2px;font-weight:normal;color:#333;transform-origin:0 0;transform:scaleX(1.04);-webkit-text-stroke:1.1px #333;">BALANCE EN</div>
<div class="t" style="left:261.35px;top:23.39px;font-size:35.1px;font-weight:bold;color:#333;transform-origin:0 0;transform:scaleX(1.068);-webkit-text-stroke:1px #333;">MÉXICO</div>
<svg class="abs" style="left:0;top:0" width="760" height="80"><defs><linearGradient id="bg1" x1="0" x2="1"><stop offset="0" stop-color="#a52525"/><stop offset="0.3" stop-color="#c23030"/><stop offset="1" stop-color="#cc3333"/></linearGradient></defs><polygon points="420.4,24.8 730.7,24.8 719,59.4 410.2,59.4" fill="url(#bg1)"/><line x1="421.3" y1="20.2" x2="408.3" y2="65" stroke="#111" stroke-width="1.2"/></svg>
<div class="t" style="left:430.02px;top:30.28px;font-size:22.6px;font-weight:bold;color:#fff;transform-origin:0 0;transform:scaleX(0.966);">CONTAGIOS POR ESTADO</div>
<svg class="abs" style="left:1110px;top:10px" width="80" height="80" viewBox="1110 10 80 80"><circle cx="1151.4" cy="48.3" r="28.3" fill="#d3322f"/><polygon fill="#fff" points="1129.4,63.9 1141.8,63.9 1141.8,62.2 1137.5,61.6 1139.4,42.5 1150.3,63.9 1163.4,42.5 1165.1,61.6 1160.5,62.2 1160.5,63.9 1174.1,63.9 1174.1,62.2 1169.6,61.6 1164.8,29.8 1161.4,29.8 1151.4,52.3 1142.8,29.8 1137.3,29.8 1134,61.6 1129.4,62.2"/><circle cx="1176.6" cy="23.4" r="2.9" fill="none" stroke="#d3322f" stroke-width="0.8"/><text x="1176.6" y="25.2" text-anchor="middle" font-size="4.2" font-weight="bold" fill="#d3322f">R</text></svg>
<div class="abs" style="left:1021px;top:188px;width:164px;height:172.8px;background:#d23131;border-radius:12px 12px 0 0;overflow:hidden"></div>
<div class="abs" style="left:1021px;top:362px;width:164px;height:198.2px;background:rgba(110,110,110,0.17);border-radius:0 0 12px 12px"></div>
<svg class="abs" style="left:1021px;top:188px" width="164" height="173" viewBox="1021 188 164 173"><defs><clipPath id="pc"><rect x="1021" y="188" width="164" height="172.8" rx="0"/></clipPath><filter id="ds" x="-30%" y="-30%" width="160%" height="160%"><feGaussianBlur in="SourceAlpha" stdDeviation="3.5"/><feOffset dx="-4" dy="4" result="b"/><feFlood flood-color="#000" flood-opacity="0.2"/><feComposite in2="b" operator="in"/><feMerge><feMergeNode/><feMergeNode in="SourceGraphic"/></feMerge></filter></defs><g clip-path="url(#pc)"><g filter="url(#ds)"><g transform="translate(1140,310) scale(0.88)">
<circle cx="0" cy="0" r="62.5" fill="none" stroke="#d23131" stroke-width="6"/>
<circle cx="0" cy="0" r="54.5" fill="#d23131"/>
<g transform="rotate(15.0)"><rect x="-4.6" y="-80" width="9.2" height="16" fill="#d23131"/><path d="M-12,-89 Q0,-93 12,-89 Q10,-82 4,-77 L-4,-77 Q-10,-82 -12,-89 Z" fill="#d23131"/></g>
<g transform="rotate(51.0)"><rect x="-4.6" y="-80" width="9.2" height="16" fill="#d23131"/><path d="M-12,-89 Q0,-93 12,-89 Q10,-82 4,-77 L-4,-77 Q-10,-82 -12,-89 Z" fill="#d23131"/></g>
<g transform="rotate(87.0)"><rect x="-4.6" y="-80" width="9.2" height="16" fill="#d23131"/><path d="M-12,-89 Q0,-93 12,-89 Q10,-82 4,-77 L-4,-77 Q-10,-82 -12,-89 Z" fill="#d23131"/></g>
<g transform="rotate(123.0)"><rect x="-4.6" y="-80" width="9.2" height="16" fill="#d23131"/><path d="M-12,-89 Q0,-93 12,-89 Q10,-82 4,-77 L-4,-77 Q-10,-82 -12,-89 Z" fill="#d23131"/></g>
<g transform="rotate(159.0)"><rect x="-4.6" y="-80" width="9.2" height="16" fill="#d23131"/><path d="M-12,-89 Q0,-93 12,-89 Q10,-82 4,-77 L-4,-77 Q-10,-82 -12,-89 Z" fill="#d23131"/></g>
<g transform="rotate(195.0)"><rect x="-4.6" y="-80" width="9.2" height="16" fill="#d23131"/><path d="M-12,-89 Q0,-93 12,-89 Q10,-82 4,-77 L-4,-77 Q-10,-82 -12,-89 Z" fill="#d23131"/></g>
<g transform="rotate(231.0)"><rect x="-4.6" y="-80" width="9.2" height="16" fill="#d23131"/><path d="M-12,-89 Q0,-93 12,-89 Q10,-82 4,-77 L-4,-77 Q-10,-82 -12,-89 Z" fill="#d23131"/></g>
<g transform="rotate(267.0)"><rect x="-4.6" y="-80" width="9.2" height="16" fill="#d23131"/><path d="M-12,-89 Q0,-93 12,-89 Q10,-82 4,-77 L-4,-77 Q-10,-82 -12,-89 Z" fill="#d23131"/></g>
<g transform="rotate(303.0)"><rect x="-4.6" y="-80" width="9.2" height="16" fill="#d23131"/><path d="M-12,-89 Q0,-93 12,-89 Q10,-82 4,-77 L-4,-77 Q-10,-82 -12,-89 Z" fill="#d23131"/></g>
<g transform="rotate(339.0)"><rect x="-4.6" y="-80" width="9.2" height="16" fill="#d23131"/><path d="M-12,-89 Q0,-93 12,-89 Q10,-82 4,-77 L-4,-77 Q-10,-82 -12,-89 Z" fill="#d23131"/></g>
</g></g></g></svg>
<div class="t" style="left:1030.55px;top:194.79px;font-size:15.1px;font-weight:bold;color:#ffe000;transform-origin:0 0;transform:scaleX(1.017);">NÚMEROS POR DÍA</div>
<div class="abs" style="left:1029px;top:215.8px;width:148px;height:0;border-top:1.3px dotted rgba(255,255,255,0.8)"></div>
<div class="t" style="right:27.50px;top:223.71px;font-size:15.9px;font-weight:bold;color:#fff;transform-origin:100% 0;transform:scaleX(1.065);">Casos totales</div>
<div class="t" style="right:19.20px;top:247.19px;font-size:31px;font-weight:bold;color:#fff;transform-origin:100% 0;transform:scaleX(1.097);-webkit-text-stroke:0.6px #fff;">3,664,223</div>
<div class="abs" style="left:1029px;top:289.8px;width:148px;height:0;border-top:1.3px dotted rgba(255,255,255,0.8)"></div>
<div class="t" style="right:27.50px;top:297.61px;font-size:15.9px;font-weight:bold;color:#fff;transform-origin:100% 0;transform:scaleX(1.065);">Casos nuevos</div>
<div class="t" style="right:19.20px;top:317.33px;font-size:33.3px;font-weight:bold;color:#fff;transform-origin:100% 0;transform:scaleX(1.118);-webkit-text-stroke:0.6px #fff;">8,828</div>
<div class="t" style="right:27.50px;top:367.55px;font-size:16.9px;font-weight:bold;color:#555;transform-origin:100% 0;">Número de casos</div>
<div class="abs" style="left:1029px;top:386.8px;width:148px;height:0;border-top:1.3px dotted #999"></div>
<div class="abs" style="left:1147.8px;top:392.0px;width:24.8px;height:19.6px;background:#ffcc00"></div>
<div class="t" style="right:56.70px;top:396.10px;font-size:12.4px;font-weight:bold;color:#666;transform-origin:100% 0;transform:scaleX(1.15);">0-39,999</div>
<div class="abs" style="left:1147.8px;top:415.3px;width:24.8px;height:19.6px;background:#ffa600"></div>
<div class="t" style="right:56.70px;top:419.40px;font-size:12.4px;font-weight:bold;color:#666;transform-origin:100% 0;transform:scaleX(1.15);">40,000+</div>
<div class="abs" style="left:1147.8px;top:438.6px;width:24.8px;height:19.6px;background:#ff7700"></div>
<div class="t" style="right:56.70px;top:442.70px;font-size:12.4px;font-weight:bold;color:#666;transform-origin:100% 0;transform:scaleX(1.15);">60,000+</div>
<div class="abs" style="left:1147.8px;top:461.9px;width:24.8px;height:19.6px;background:#d41200"></div>
<div class="t" style="right:56.70px;top:466.00px;font-size:12.4px;font-weight:bold;color:#666;transform-origin:100% 0;transform:scaleX(1.15);">80,000+</div>
<div class="abs" style="left:1147.8px;top:485.2px;width:24.8px;height:19.6px;background:#8b003f"></div>
<div class="t" style="right:56.70px;top:489.30px;font-size:12.4px;font-weight:bold;color:#666;transform-origin:100% 0;transform:scaleX(1.15);">100,000+</div>
<div class="abs" style="left:1147.8px;top:508.5px;width:24.8px;height:19.6px;background:#6b0075"></div>
<div class="t" style="right:56.70px;top:512.60px;font-size:12.4px;font-weight:bold;color:#666;transform-origin:100% 0;transform:scaleX(1.15);">150,000+</div>
<div class="abs" style="left:1147.8px;top:531.8px;width:24.8px;height:19.6px;background:#2e149a"></div>
<div class="t" style="right:56.70px;top:535.90px;font-size:12.4px;font-weight:bold;color:#666;transform-origin:100% 0;transform:scaleX(1.15);">250,000+</div>
<div class="t" style="right:26.20px;top:569.63px;font-size:13.3px;font-weight:normal;color:#222;transform-origin:100% 0;transform:scaleX(0.942);">Cifras hasta el corte</div>
<div class="t" style="right:26.00px;top:586.13px;font-size:13.3px;font-weight:normal;color:#222;transform-origin:100% 0;transform:scaleX(0.935);">más reciente de la</div>
<div class="t" style="right:21.00px;top:602.63px;font-size:13.3px;font-weight:normal;color:#222;transform-origin:100% 0;transform:scaleX(0.936);">Secretaría de Salud,</div>
<div class="t" style="right:21.50px;top:619.13px;font-size:13.3px;font-weight:normal;color:#222;transform-origin:100% 0;transform:scaleX(0.934);">del <b>30 de septiembre</b></div>
<div class="t" style="right:19.00px;top:635.63px;font-size:13.3px;font-weight:normal;color:#222;transform-origin:100% 0;transform:scaleX(0.925);">a las 18:00 horas.</div>
</body></html>
